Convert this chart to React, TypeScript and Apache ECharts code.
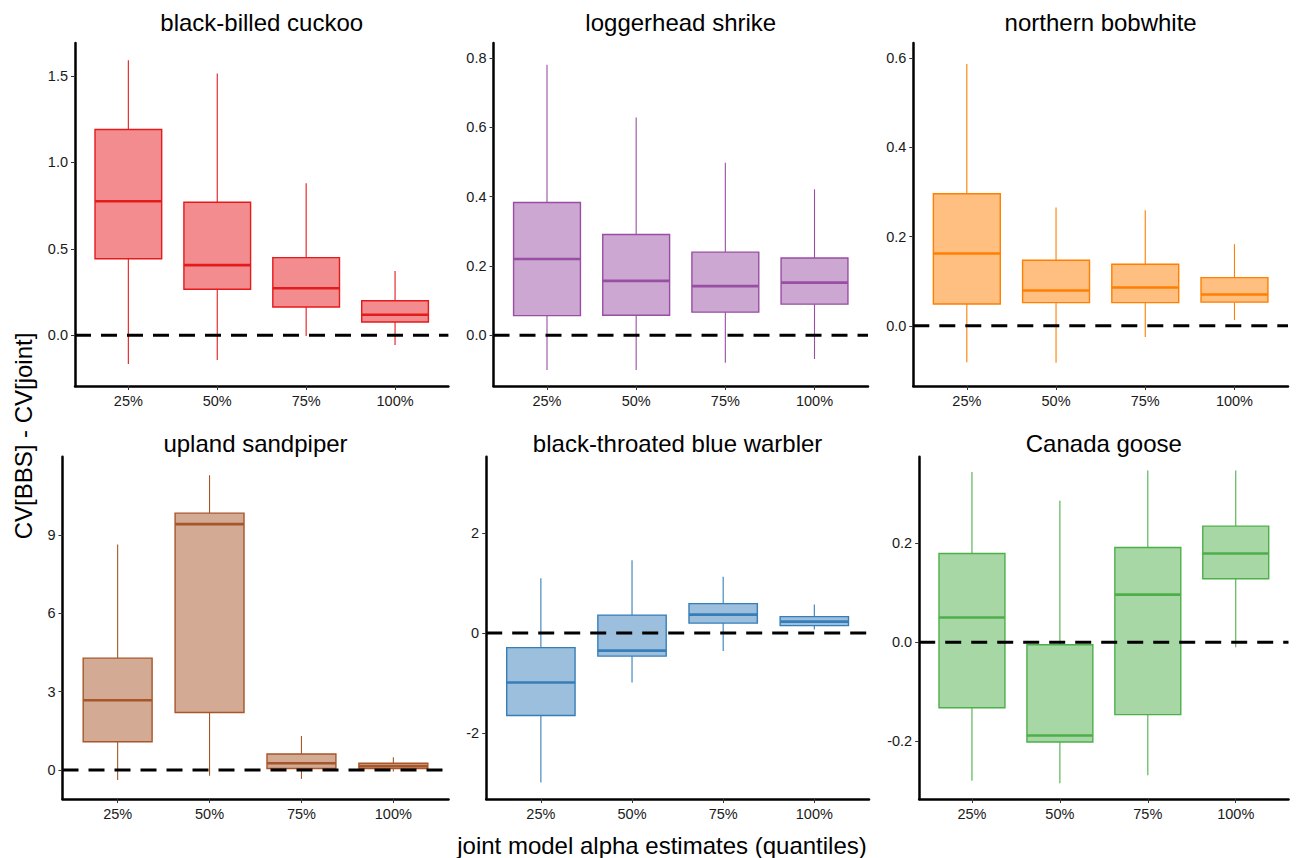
import React, { useEffect, useRef } from "react";
import * as echarts from "echarts";

// ---------- data ----------
const categories = ["25%", "50%", "75%", "100%"];
const speciesNames = [
  "black-billed cuckoo",
  "loggerhead shrike",
  "northern bobwhite",
  "upland sandpiper",
  "black-throated blue warbler",
  "Canada goose",
];
// each row: [min, Q1, median, Q3, max] for the 25%, 50%, 75%, 100% groups
const cuckoo = [
  [-0.166, 0.443, 0.775, 1.19, 1.59],
  [-0.143, 0.266, 0.406, 0.769, 1.514],
  [-0.004, 0.164, 0.272, 0.449, 0.879],
  [-0.056, 0.077, 0.119, 0.2, 0.372],
];
const shrike = [
  [-0.1, 0.057, 0.22, 0.383, 0.78],
  [-0.1, 0.058, 0.157, 0.291, 0.628],
  [-0.079, 0.067, 0.142, 0.24, 0.498],
  [-0.068, 0.09, 0.152, 0.223, 0.421],
];
const bobwhite = [
  [-0.082, 0.049, 0.162, 0.296, 0.587],
  [-0.083, 0.052, 0.079, 0.147, 0.265],
  [-0.025, 0.052, 0.086, 0.138, 0.259],
  [0.013, 0.053, 0.07, 0.108, 0.183],
];
const sandpiper = [
  [-0.38, 1.08, 2.67, 4.28, 8.63],
  [-0.22, 2.2, 9.41, 9.83, 11.28],
  [-0.34, 0.06, 0.26, 0.61, 1.3],
  [-0.06, 0.06, 0.15, 0.26, 0.49],
];
const warbler = [
  [-2.99, -1.65, -0.99, -0.29, 1.1],
  [-0.99, -0.46, -0.35, 0.36, 1.46],
  [-0.36, 0.2, 0.37, 0.59, 1.13],
  [0.07, 0.15, 0.23, 0.33, 0.57],
];
const goose = [
  [-0.279, -0.132, 0.05, 0.179, 0.343],
  [-0.284, -0.201, -0.188, -0.005, 0.285],
  [-0.268, -0.146, 0.096, 0.191, 0.346],
  [-0.01, 0.128, 0.179, 0.234, 0.346],
];
const panelStats = [cuckoo, shrike, bobwhite, sandpiper, warbler, goose];
const yTicks = [
  [0, 0.5, 1, 1.5],
  [0, 0.2, 0.4, 0.6, 0.8],
  [0, 0.2, 0.4, 0.6],
  [0, 3, 6, 9],
  [-2, 0, 2],
  [-0.2, 0, 0.2],
];
const yRanges = [
  [-0.293, 1.69],
  [-0.146, 0.843],
  [-0.135, 0.634],
  [-1.11, 11.99],
  [-3.32, 3.53],
  [-0.316, 0.374],
];
const referenceValue = 0;
const xTitle = "joint model alpha estimates (quantiles)";
const yTitle = "CV[BBS] - CV[joint]";

// ---------- style ----------
const strokeColors = ["#E41A1C", "#984EA3", "#FF7F00", "#A65628", "#377EB8", "#4DAF4A"];
const fillColors = ["#F28C8E", "#CCA7D1", "#FFBF80", "#D3AB94", "#9BBFDC", "#A6D7A5"];
const FONT = "'Liberation Sans', Arial, Helvetica, sans-serif";
const X_MIN = 0.4;
const X_MAX = 4.6;
const BOX_WIDTH = 0.75;

const panels = [
  { left: 75, right: 448.4, top: 43, bottom: 386, titleY: 22 },
  { left: 493.5, right: 868, top: 43, bottom: 386, titleY: 22 },
  { left: 913.3, right: 1288, top: 43, bottom: 386, titleY: 22 },
  { left: 62.5, right: 448.5, top: 456.7, bottom: 799, titleY: 443 },
  { left: 486.2, right: 869, top: 456.7, bottom: 799, titleY: 443 },
  { left: 919.2, right: 1288.5, top: 456.7, bottom: 799, titleY: 443 },
];

function buildOption() {
  const grid: any[] = [];
  const xAxis: any[] = [];
  const yAxis: any[] = [];
  const series: any[] = [];
  const graphic: any[] = [];

  panels.forEach((p, i) => {
    grid.push({
      left: p.left,
      top: p.top,
      width: p.right - p.left,
      height: p.bottom - p.top,
      containLabel: false,
      outerBoundsMode: "none",
    });
    xAxis.push({
      gridIndex: i,
      type: "value",
      min: X_MIN,
      max: X_MAX,
      axisLine: { show: true, onZero: false, lineStyle: { color: "#000", width: 2.5 } },
      axisTick: {
        show: true,
        customValues: [1, 2, 3, 4],
        length: 4,
        lineStyle: { color: "#333", width: 1 },
      },
      axisLabel: {
        show: true,
        customValues: [1, 2, 3, 4],
        formatter: (v: number) => categories[Math.round(v) - 1] ?? "",
        fontSize: 14.5,
        fontFamily: FONT,
        color: "#1a1a1a",
        margin: 7,
      },
      splitLine: { show: false },
    });
    const ticks = yTicks[i];
    const decimals = ticks.every((t) => Number.isInteger(t)) ? 0 : 1;
    yAxis.push({
      gridIndex: i,
      type: "value",
      min: yRanges[i][0],
      max: yRanges[i][1],
      axisLine: { show: true, onZero: false, lineStyle: { color: "#000", width: 2.5 } },
      axisTick: {
        show: true,
        customValues: ticks,
        length: 4,
        lineStyle: { color: "#333", width: 1 },
      },
      axisLabel: {
        show: true,
        customValues: ticks,
        formatter: (v: number) => v.toFixed(decimals),
        fontSize: 14.5,
        fontFamily: FONT,
        color: "#1a1a1a",
        margin: 7,
      },
      splitLine: { show: false },
    });

    const stroke = strokeColors[i];
    const fill = fillColors[i];
    series.push({
      type: "custom",
      xAxisIndex: i,
      yAxisIndex: i,
      clip: false,
      silent: true,
      data: panelStats[i].map((s, j) => [j + 1, ...s]),
      encode: { x: 0, y: [1, 2, 3, 4, 5] },
      renderItem: (_params: any, api: any) => {
        const x = api.value(0);
        const mn = api.value(1);
        const q1 = api.value(2);
        const md = api.value(3);
        const q3 = api.value(4);
        const mx = api.value(5);
        const w = api.size([BOX_WIDTH, 0])[0];
        const pMin = api.coord([x, mn]);
        const pQ1 = api.coord([x, q1]);
        const pMd = api.coord([x, md]);
        const pQ3 = api.coord([x, q3]);
        const pMax = api.coord([x, mx]);
        const cx = pMd[0];
        const left = cx - w / 2;
        return {
          type: "group",
          children: [
            {
              type: "line",
              shape: { x1: cx, y1: pMax[1], x2: cx, y2: pQ3[1] },
              style: { stroke, lineWidth: 1.1 },
            },
            {
              type: "line",
              shape: { x1: cx, y1: pQ1[1], x2: cx, y2: pMin[1] },
              style: { stroke, lineWidth: 1.1 },
            },
            {
              type: "rect",
              shape: { x: left, y: pQ3[1], width: w, height: pQ1[1] - pQ3[1] },
              style: { fill, stroke, lineWidth: 1.4 },
            },
            {
              type: "line",
              shape: { x1: left, y1: pMd[1], x2: left + w, y2: pMd[1] },
              style: { stroke, lineWidth: 2.6 },
            },
          ],
        };
      },
    });
    series.push({
      type: "line",
      xAxisIndex: i,
      yAxisIndex: i,
      silent: true,
      symbol: "none",
      z: 5,
      data: [
        [X_MIN, referenceValue],
        [X_MAX, referenceValue],
      ],
      lineStyle: { color: "#000", width: 3, type: [16, 10] },
    });

    graphic.push({
      type: "text",
      x: (p.left + p.right) / 2,
      y: p.titleY,
      style: {
        text: speciesNames[i],
        fontSize: 24,
        fontFamily: FONT,
        fill: "#000",
        align: "center",
        verticalAlign: "middle",
        textAlign: "center",
        textVerticalAlign: "middle",
      },
    });
  });

  graphic.push({
    type: "text",
    x: 662,
    y: 845,
    style: {
      text: xTitle,
      fontSize: 24,
      fontFamily: FONT,
      fill: "#000",
      align: "center",
      verticalAlign: "middle",
      textAlign: "center",
      textVerticalAlign: "middle",
    },
  });
  graphic.push({
    type: "text",
    x: 23,
    y: 436,
    rotation: Math.PI / 2,
    style: {
      text: yTitle,
      fontSize: 24,
      fontFamily: FONT,
      fill: "#000",
      align: "center",
      verticalAlign: "middle",
      textAlign: "center",
      textVerticalAlign: "middle",
    },
  });

  return {
    animation: false,
    backgroundColor: "#fff",
    grid,
    xAxis,
    yAxis,
    series,
    graphic,
  };
}

export default function App() {
  const ref = useRef<HTMLDivElement>(null);
  useEffect(() => {
    if (!ref.current) return;
    const chart = echarts.init(ref.current, null, { renderer: "svg" });
    chart.setOption(buildOption() as any);
    return () => chart.dispose();
  }, []);
  return (
    <div
      ref={ref}
      style={{ position: "fixed", left: 0, top: 0, width: 1298, height: 858, background: "#fff" }}
    />
  );
}
